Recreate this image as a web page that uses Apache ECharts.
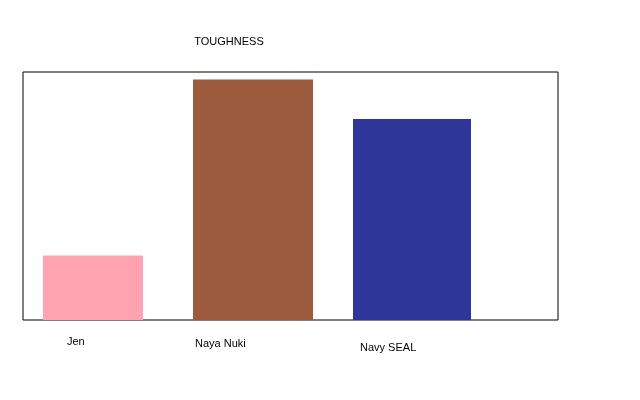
<!DOCTYPE html>
<html>
<head>
<meta charset="utf-8">
<script src="https://cdn.jsdelivr.net/npm/echarts@6/dist/echarts.min.js"></script>
<style>html,body{margin:0;padding:0;background:#fff}#c{width:640px;height:400px}</style>
</head>
<body>
<div id="c"></div>
<script>
const names = ["Jen", "Naya Nuki", "Navy SEAL"];
const values = [26, 97, 81];
const positions = [79, 229, 389];
const widths = [100, 120, 118];
const colors = ["#ffa3b1", "#9b5b3c", "#2e3799"];
const labelOffsets = [[24, 27], [2, 29], [7, 33]];

const chart = echarts.init(document.getElementById("c"));
chart.setOption({
  animation: false,
  title: {
    text: "TOUGHNESS", left: 224, top: 31, textAlign: "center",
    textStyle: { fontFamily: "Liberation Sans", fontSize: 11, fontWeight: "normal", color: "#000" }
  },
  grid: { left: 23, top: 72, width: 535, height: 248, show: true, borderColor: "#000", borderWidth: 1 },
  xAxis: { type: "value", min: 0, max: 535, show: false },
  yAxis: { type: "value", min: 0, max: 100, show: false },
  series: names.map((n, i) => ({
    type: "bar",
    name: n,
    barWidth: widths[i],
    barGap: "-100%",
    itemStyle: { color: colors[i] },
    data: [[positions[i], values[i]]],
    label: {
      show: true, formatter: n, position: "insideBottomLeft",
      distance: 0, offset: labelOffsets[i],
      fontFamily: "Liberation Sans", fontSize: 11, color: "#000"
    }
  }))
});
</script>
</body>
</html>
